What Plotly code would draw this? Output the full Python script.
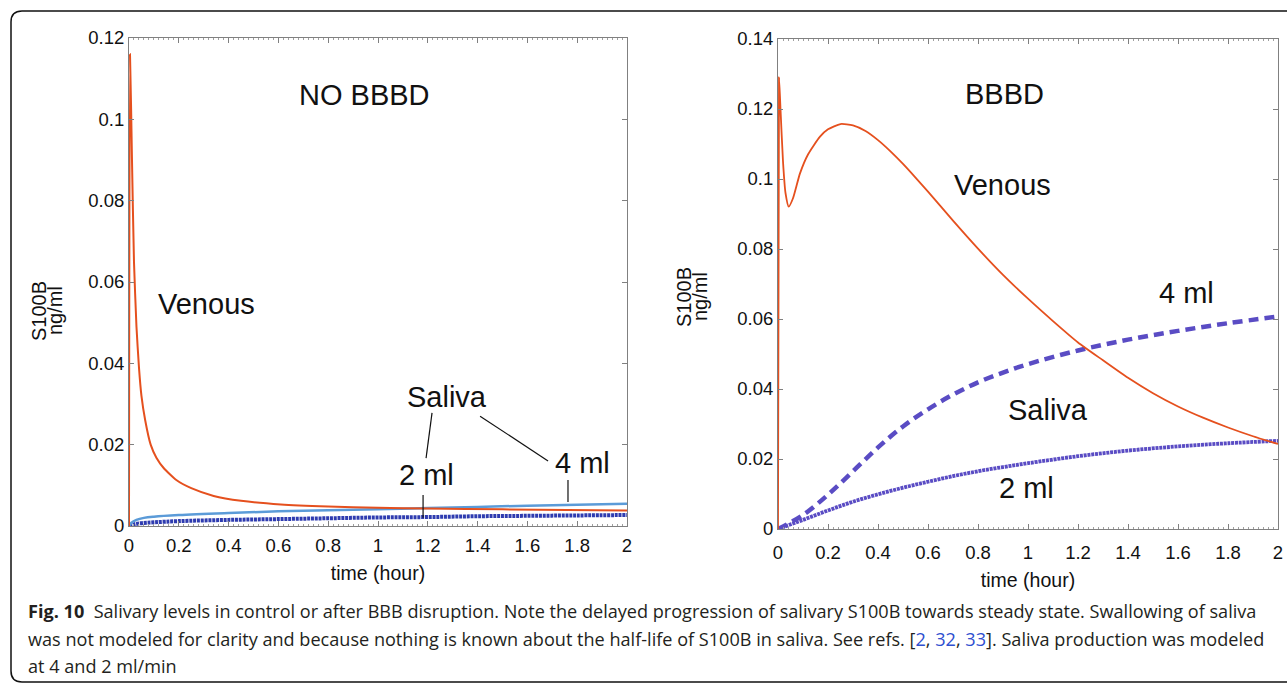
import plotly.graph_objects as go

W, H = 1287, 683

# ---------------- data ----------------
# Left panel: NO BBBD
t_ven_nb = [0, 0.004, 0.012, 0.02, 0.03, 0.04, 0.05, 0.065, 0.087, 0.11, 0.14, 0.19,
            0.25, 0.34, 0.45, 0.61, 0.8, 1.0, 1.2, 1.5, 2.0]
ven_nb = [0, 0.116, 0.090, 0.065, 0.049, 0.039, 0.032, 0.026, 0.0200, 0.0168, 0.0142, 0.0113,
          0.0093, 0.0074, 0.0062, 0.0053, 0.0048, 0.0045, 0.0043, 0.0041, 0.0038]

t_sal4_nb = [0, 0.01, 0.03, 0.06, 0.1, 0.2, 0.4, 0.6, 0.8, 1.0, 1.2, 1.4, 1.6, 1.8, 2.0]
sal4_nb = [0, 0.0008, 0.0015, 0.0020, 0.0023, 0.0027, 0.0032, 0.0036, 0.0039, 0.0041,
           0.0044, 0.0047, 0.0050, 0.0052, 0.0055]

t_sal2_nb = [0, 0.02, 0.05, 0.1, 0.2, 0.4, 0.6, 0.8, 1.0, 1.2, 1.4, 1.6, 1.8, 2.0]
sal2_nb = [0, 0.0004, 0.0007, 0.0009, 0.0012, 0.0015, 0.0017, 0.0019, 0.0021, 0.0022,
           0.0024, 0.0025, 0.0026, 0.0027]

# Right panel: BBBD
t_ven_b = [0, 0.004, 0.01, 0.02, 0.03, 0.043, 0.06, 0.088, 0.12, 0.168, 0.2, 0.25, 0.3, 0.35,
           0.4, 0.45, 0.5, 0.55, 0.6, 0.7, 0.8, 0.9, 1.0, 1.1, 1.2, 1.3, 1.4, 1.5, 1.6, 1.7,
           1.8, 1.9, 2.0]
ven_b = [0, 0.129, 0.120, 0.105, 0.096, 0.0921, 0.0945, 0.1016, 0.107, 0.1121, 0.1142, 0.1157,
         0.1153, 0.1137, 0.1111, 0.1079, 0.1043, 0.1004, 0.0964, 0.0881, 0.0801, 0.0726, 0.0658,
         0.0594, 0.0533, 0.0482, 0.0432, 0.0388, 0.0350, 0.0318, 0.0290, 0.0265, 0.0243]

t_sal_b = [0, 0.1, 0.2, 0.3, 0.4, 0.5, 0.6, 0.7, 0.8, 0.9, 1.0, 1.2, 1.4, 1.6, 1.8, 2.0]
sal4_b = [0, 0.0040, 0.0098, 0.0165, 0.0233, 0.0293, 0.0342, 0.0384, 0.0419, 0.0447, 0.0471,
          0.0510, 0.0541, 0.0566, 0.0588, 0.0607]
sal2_b = [0, 0.0026, 0.0053, 0.0078, 0.0099, 0.0118, 0.0135, 0.0151, 0.0165, 0.0177, 0.0188,
          0.0208, 0.0224, 0.0236, 0.0245, 0.0252]

x_tickvals = [0, 0.2, 0.4, 0.6, 0.8, 1.0, 1.2, 1.4, 1.6, 1.8, 2.0]
x_ticktext = ["0", "0.2", "0.4", "0.6", "0.8", "1", "1.2", "1.4", "1.6", "1.8", "2"]
y_tickvals_nb = [0, 0.02, 0.04, 0.06, 0.08, 0.10, 0.12]
y_ticktext_nb = ["0", "0.02", "0.04", "0.06", "0.08", "0.1", "0.12"]
y_tickvals_b = [0, 0.02, 0.04, 0.06, 0.08, 0.10, 0.12, 0.14]
y_ticktext_b = ["0", "0.02", "0.04", "0.06", "0.08", "0.1", "0.12", "0.14"]

caption_lines = [
    "<b>Fig. 10</b>  Salivary levels in control or after BBB disruption. Note the delayed progression "
    "of salivary S100B towards steady state. Swallowing of saliva",
    "was not modeled for clarity and because nothing is known about the half-life of S100B in saliva. "
    "See refs. [<span style='color:#2f4fd0'>2</span>, <span style='color:#2f4fd0'>32</span>, "
    "<span style='color:#2f4fd0'>33</span>]. Saliva production was modeled",
    "at 4 and 2 ml/min",
]

# ---------------- styles ----------------
RED = "#e5501e"
LBLUE = "#5b9bd8"
DBLUE = "#2f3cb0"
PURPLE = "#5a4cc4"
AX = "#808080"
FONT = "Liberation Sans, Arial, sans-serif"

fig = go.Figure()

# left panel traces
fig.add_trace(go.Scatter(x=t_sal2_nb, y=sal2_nb, mode="lines", xaxis="x", yaxis="y",
                         line=dict(color=DBLUE, width=4, dash="3px,0.8px", shape="spline"),
                         showlegend=False))
fig.add_trace(go.Scatter(x=t_sal4_nb, y=sal4_nb, mode="lines", xaxis="x", yaxis="y",
                         line=dict(color=LBLUE, width=2.5, shape="spline"), showlegend=False))
fig.add_trace(go.Scatter(x=t_ven_nb, y=ven_nb, mode="lines", xaxis="x", yaxis="y",
                         line=dict(color=RED, width=2, shape="spline", smoothing=0.5),
                         showlegend=False))

# right panel traces
fig.add_trace(go.Scatter(x=t_sal_b, y=sal2_b, mode="lines", xaxis="x2", yaxis="y2",
                         line=dict(color=PURPLE, width=3.8, dash="3px,0.8px", shape="spline"),
                         showlegend=False))
fig.add_trace(go.Scatter(x=t_sal_b, y=sal4_b, mode="lines", xaxis="x2", yaxis="y2",
                         line=dict(color=PURPLE, width=4.5, dash="10px,6px", shape="spline"),
                         showlegend=False))
fig.add_trace(go.Scatter(x=t_ven_b, y=ven_b, mode="lines", xaxis="x2", yaxis="y2",
                         line=dict(color=RED, width=1.8, shape="spline", smoothing=0.6),
                         showlegend=False))

# ---------------- axes ----------------
def xax(dom, anchor, lab_off):
    return dict(domain=dom, anchor=anchor, range=[0, 2], tickmode="array",
                tickvals=x_tickvals, ticktext=x_ticktext, ticks="inside", ticklen=5,
                tickcolor=AX, showline=True, linecolor=AX, linewidth=1, mirror="ticks",
                showgrid=False, zeroline=False, ticklabelstandoff=lab_off,
                minor=dict(ticks="inside", ticklen=2, dtick=0.02, tickcolor="#a0a0a0"),
                tickfont=dict(family=FONT, size=18.5, color="#111"),
                title=dict(text="time (hour)", font=dict(family=FONT, size=19.5, color="#111"),
                           standoff=11))

def yax(dom, anchor, rng, tv, tt):
    return dict(domain=dom, anchor=anchor, range=rng, tickmode="array", tickvals=tv,
                ticktext=tt, ticks="inside", ticklen=5, tickcolor=AX, showline=True,
                linecolor=AX, linewidth=1, mirror="ticks", showgrid=False, zeroline=False,
                tickfont=dict(family=FONT, size=18.5, color="#111"))

L = dict(x0=129, x1=627, y0=38, y1=526)
R = dict(x0=778, x1=1278, y0=39, y1=529)

fig.update_layout(
    width=W, height=H, margin=dict(l=0, r=0, t=0, b=0, autoexpand=False),
    paper_bgcolor="white", plot_bgcolor="white",
    xaxis=xax([L["x0"] / W, L["x1"] / W], "y", 3),
    yaxis=yax([1 - L["y1"] / H, 1 - L["y0"] / H], "x", [0, 0.12], y_tickvals_nb, y_ticktext_nb),
    xaxis2=xax([R["x0"] / W, R["x1"] / W], "y2", 7),
    yaxis2=yax([1 - R["y1"] / H, 1 - R["y0"] / H], "x2", [0, 0.14], y_tickvals_b, y_ticktext_b),
)

# ---------------- annotations ----------------
ann = []
def txt(text, x, y, xref, yref, size=29, **kw):
    ann.append(dict(text=text, x=x, y=y, xref=xref, yref=yref, showarrow=False,
                    font=dict(family=FONT, size=size, color="#111"), **kw))

txt("NO BBBD", 0.944, 0.106, "x", "y")
txt("Venous", 0.31, 0.0546, "x", "y")
txt("Saliva", 1.277, 0.0317, "x", "y")
txt("2 ml", 1.193, 0.0125, "x", "y")
txt("4 ml", 1.823, 0.0155, "x", "y")

txt("BBBD", 0.907, 0.1242, "x2", "y2")
txt("Venous", 0.896, 0.0983, "x2", "y2")
txt("4 ml", 1.635, 0.0674, "x2", "y2")
txt("Saliva", 1.08, 0.034, "x2", "y2")
txt("2 ml", 0.992, 0.0117, "x2", "y2")

# y-axis titles (two stacked rotated lines)
for xc, yc in [(26, 311), (684, 297)]:
    txt("S100B", xc / W, 1 - yc / H, "paper", "paper", size=20, textangle=-90)
    txt("ng/ml", (xc + 16) / W, 1 - yc / H, "paper", "paper", size=20, textangle=-90)

# caption
for i, line in enumerate(caption_lines):
    ann.append(dict(text=line, x=26 / W, y=1 - (611 + 27.5 * i) / H, xref="paper", yref="paper",
                    xanchor="left", yanchor="middle", showarrow=False, align="left",
                    font=dict(family="Open Sans, Noto Sans, sans-serif", size=18.1, color="#231f20")))

fig.update_layout(annotations=ann)

# ---------------- pointer lines in left panel + frame ----------------
shapes = []
for (xa, ya, xb, yb) in [(1.217, 0.0278, 1.193, 0.0167), (1.410, 0.0270, 1.683, 0.0160),
                         (1.181, 0.0076, 1.181, 0.0020), (1.763, 0.0113, 1.763, 0.0059)]:
    shapes.append(dict(type="line", xref="x", yref="y", x0=xa, y0=ya, x1=xb, y1=yb,
                       line=dict(color="#111", width=1.2)))

def P(px, py):
    return f"{px / W:.5f},{1 - py / H:.5f}"

frame = (f"M {P(1300, 11)} L {P(22, 11)} Q {P(11, 11)} {P(11, 22)} "
         f"L {P(11, 671)} Q {P(11, 682)} {P(22, 682)} L {P(1300, 682)}")
shapes.append(dict(type="path", xref="paper", yref="paper", path=frame,
                   line=dict(color="#111", width=1.5)))
fig.update_layout(shapes=shapes)

fig.write_html("out.html")
